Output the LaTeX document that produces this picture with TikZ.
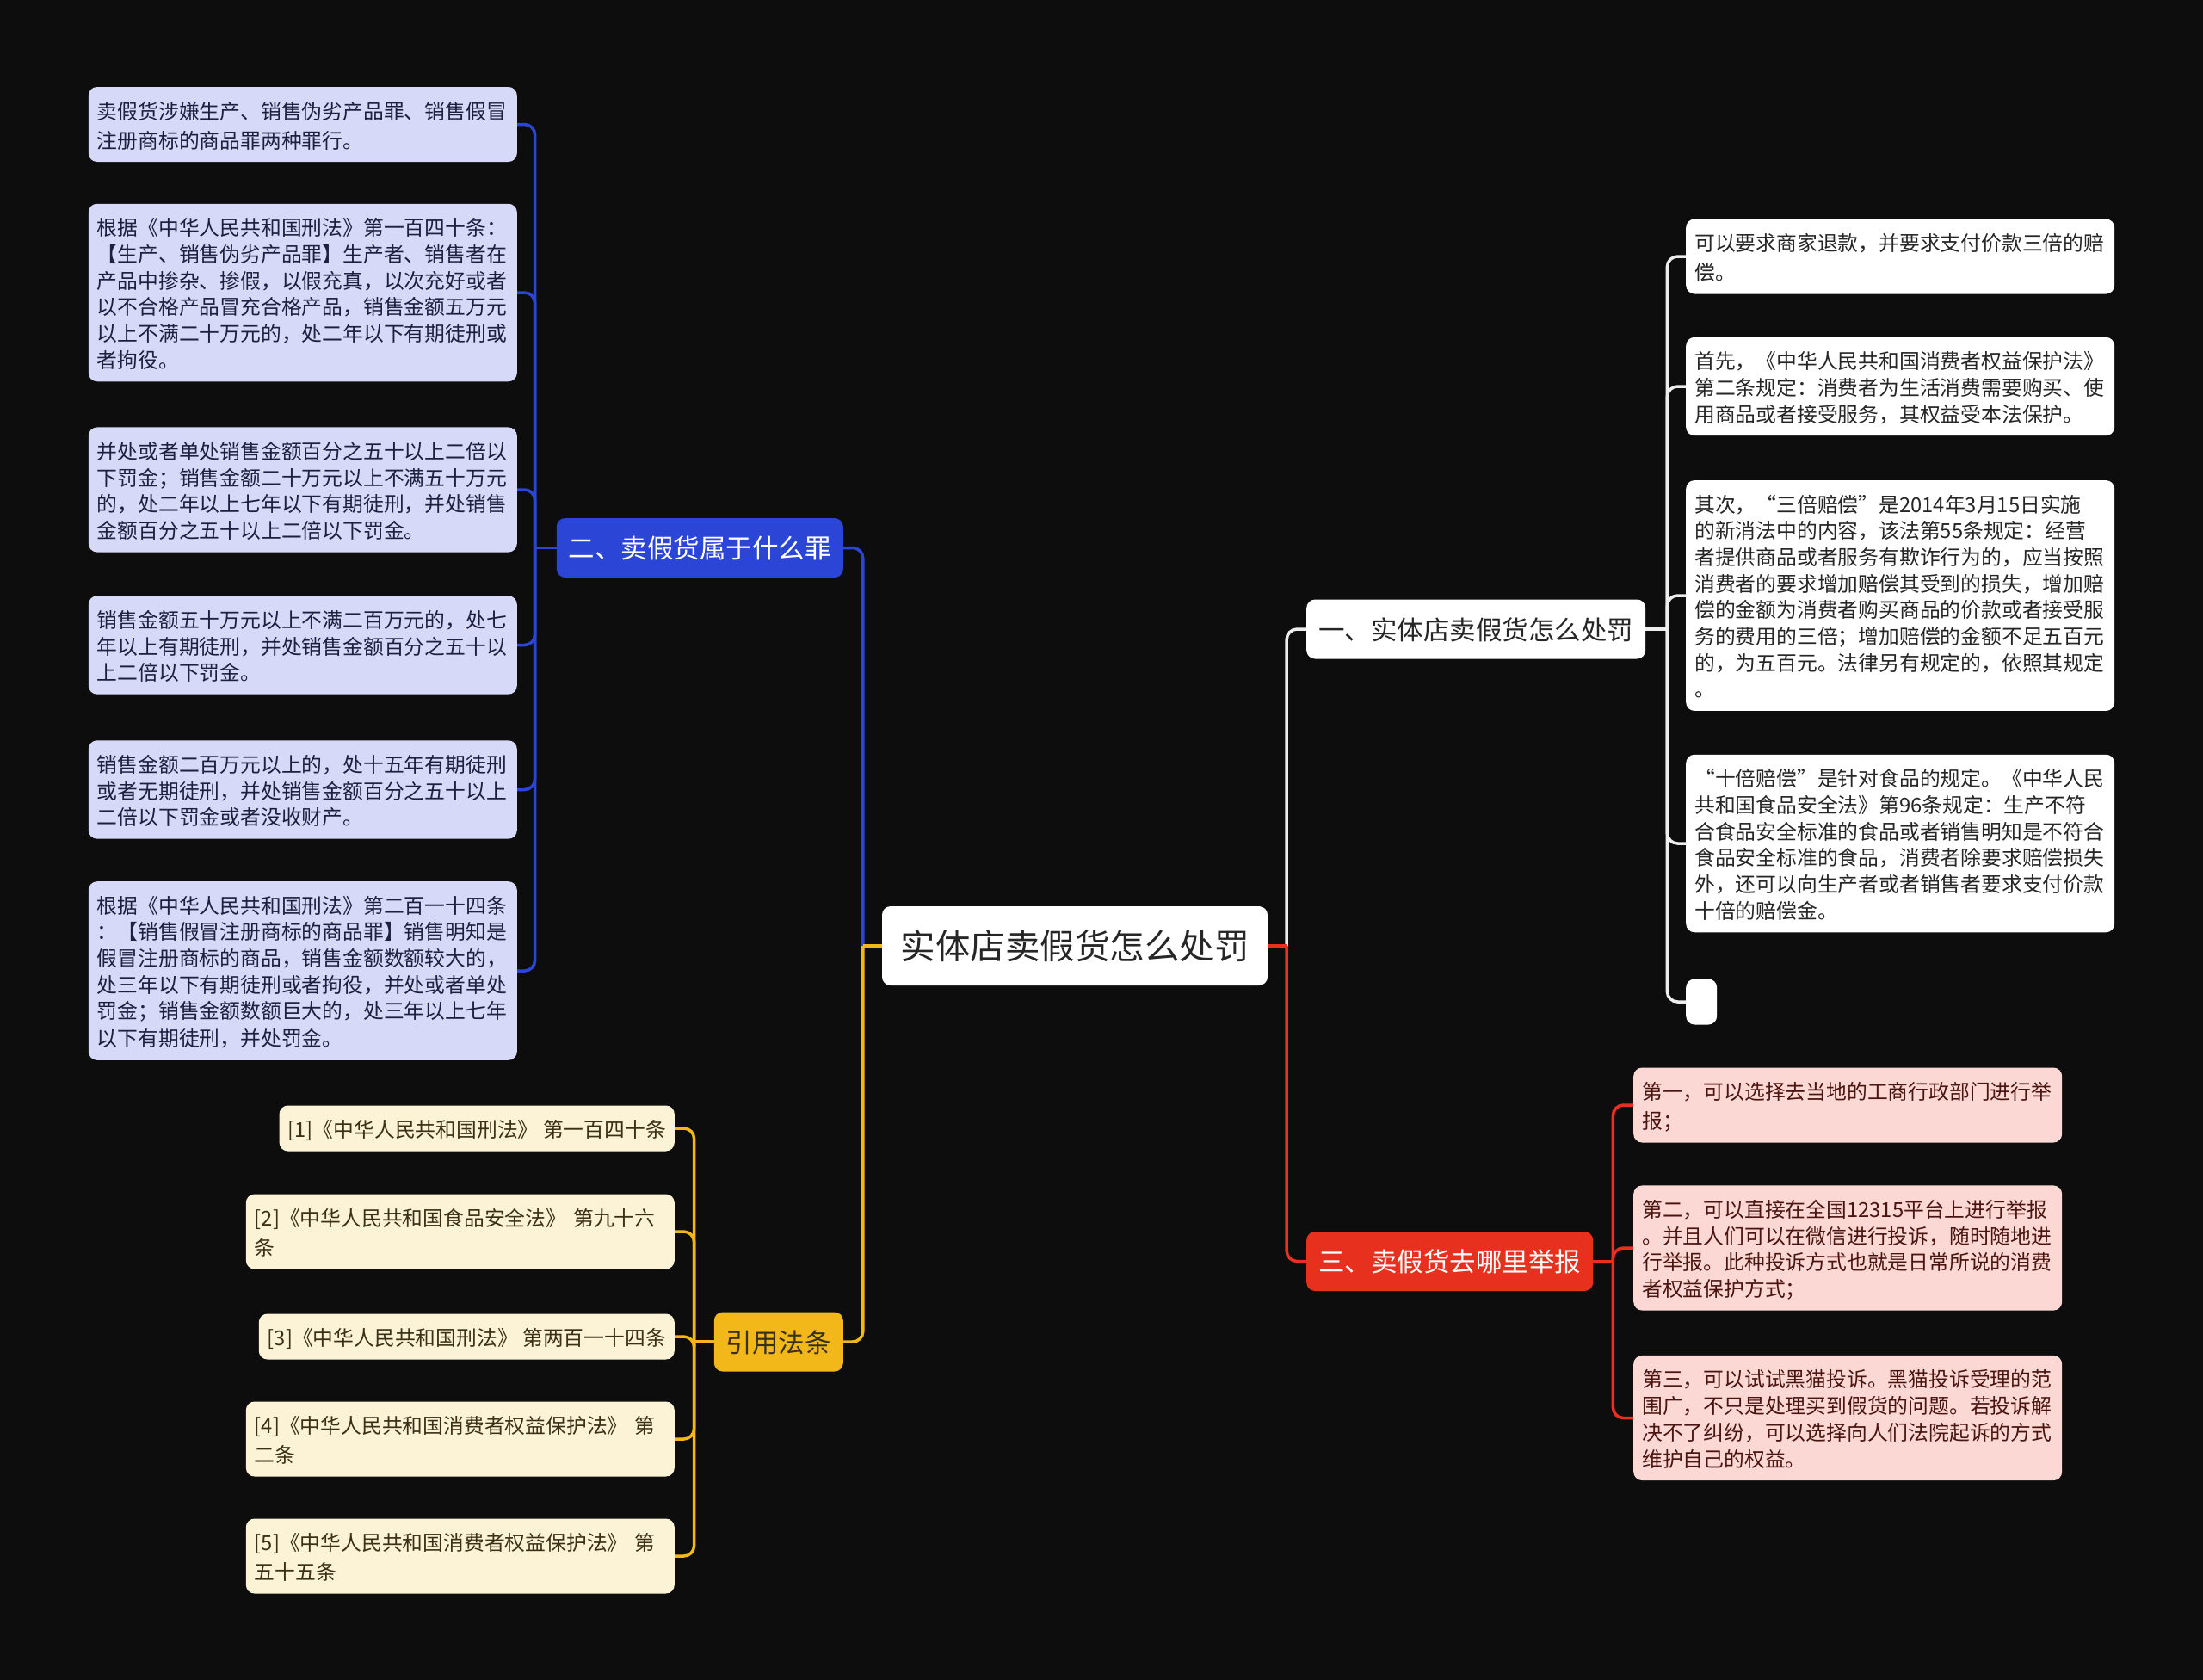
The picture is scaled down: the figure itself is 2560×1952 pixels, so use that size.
\documentclass[tikz,border=0pt]{standalone}
\usepackage{fontspec}
\setmainfont{Noto Sans CJK SC}

\definecolor{bg}{HTML}{0D0D0D}
\definecolor{blueB}{HTML}{2B45D6}
\definecolor{blueL}{HTML}{D6D9F7}
\definecolor{blueT}{HTML}{1E2040}
\definecolor{redB}{HTML}{E8301E}
\definecolor{redL}{HTML}{FBD8D4}
\definecolor{redT}{HTML}{4A1410}
\definecolor{yelB}{HTML}{F2B81A}
\definecolor{yelL}{HTML}{FCF3D6}
\definecolor{yelT}{HTML}{3A3018}
\definecolor{greyT}{HTML}{262626}
\definecolor{whiteC}{HTML}{EDEDED}

\newcommand{\ls}{\rule[-6pt]{0pt}{33pt}}

\begin{document}
\begin{tikzpicture}[x=1pt,y=-1pt,
    leaf/.style={rounded corners=10pt, inner xsep=10pt, inner ysep=10pt, align=left,
      font=\fontsize{23.8}{30.7}\selectfont, execute at begin node=\ls, execute at end node=\ls},
    wide/.style={text width=478pt},
    bleaf/.style={leaf, wide, fill=blueL, text=blueT, anchor=east},
    wleaf/.style={leaf, fill=white, text=greyT, anchor=west},
    rleaf/.style={leaf, wide, fill=redL, text=redT, anchor=west},
    yleaf/.style={leaf, fill=yelL, text=yelT, anchor=east},
    branch/.style={rounded corners=10pt, inner xsep=14pt, inner ysep=19.5pt,
      text height=27pt, text depth=3pt, font=\fontsize{30.5}{36}\selectfont},
    link/.style={line width=3.5pt},
    jn/.style={link, rounded corners=12pt}]
  \fill[bg] (0,0) rectangle (2560,1952);

  % centre and main branches
  \node[branch, fill=white, text=greyT, font=\fontsize{40.5}{48}\selectfont,
    text height=35pt, text depth=5pt, inner ysep=26pt, inner xsep=21.5pt] (root) at (1249,1099) {实体店卖假货怎么处罚};
  \node[branch, fill=blueB, text=white, anchor=east] (b) at (980,636.5) {二、卖假货属于什么罪};
  \node[branch, fill=yelB, text=yelT, anchor=east] (y) at (980,1559) {引用法条};
  \node[branch, fill=white, text=greyT, anchor=west] (w) at (1518,731) {一、实体店卖假货怎么处罚};
  \node[branch, fill=redB, text=white, anchor=west] (r) at (1518,1465.5) {三、卖假货去哪里举报};

  % left: blue leaves
  \node[bleaf] (b_1) at (601,144.5) {卖假货涉嫌生产、销售伪劣产品罪、销售假冒\\注册商标的商品罪两种罪行。};
  \node[bleaf] (b_2) at (601,340) {根据《中华人民共和国刑法》第一百四十条：\\【生产、销售伪劣产品罪】生产者、销售者在\\产品中掺杂、掺假，以假充真，以次充好或者\\以不合格产品冒充合格产品，销售金额五万元\\以上不满二十万元的，处二年以下有期徒刑或\\者拘役。};
  \node[bleaf] (b_3) at (601,569) {并处或者单处销售金额百分之五十以上二倍以\\下罚金；销售金额二十万元以上不满五十万元\\的，处二年以上七年以下有期徒刑，并处销售\\金额百分之五十以上二倍以下罚金。};
  \node[bleaf] (b_4) at (601,749.5) {销售金额五十万元以上不满二百万元的，处七\\年以上有期徒刑，并处销售金额百分之五十以\\上二倍以下罚金。};
  \node[bleaf] (b_5) at (601,917.5) {销售金额二百万元以上的，处十五年有期徒刑\\或者无期徒刑，并处销售金额百分之五十以上\\二倍以下罚金或者没收财产。};
  \node[bleaf] (b_6) at (601,1128) {根据《中华人民共和国刑法》第二百一十四条\\：【销售假冒注册商标的商品罪】销售明知是\\假冒注册商标的商品，销售金额数额较大的，\\处三年以下有期徒刑或者拘役，并处或者单处\\罚金；销售金额数额巨大的，处三年以上七年\\以下有期徒刑，并处罚金。};

  % left: yellow leaves
  \node[yleaf] (y_1) at (784,1311) {[1]《中华人民共和国刑法》 第一百四十条};
  \node[yleaf, wide] (y_2) at (784,1431) {[2]《中华人民共和国食品安全法》 第九十六\\条};
  \node[yleaf] (y_3) at (784,1553) {[3]《中华人民共和国刑法》 第两百一十四条};
  \node[yleaf, wide] (y_4) at (784,1672) {[4]《中华人民共和国消费者权益保护法》 第\\二条};
  \node[yleaf, wide] (y_5) at (784,1808) {[5]《中华人民共和国消费者权益保护法》 第\\五十五条};

  % right: white leaves
  \node[wleaf, wide] (w_1) at (1959,298) {可以要求商家退款，并要求支付价款三倍的赔\\偿。};
  \node[wleaf, wide] (w_2) at (1959,449) {首先，《中华人民共和国消费者权益保护法》\\第二条规定：消费者为生活消费需要购买、使\\用商品或者接受服务，其权益受本法保护。};
  \node[wleaf, wide] (w_3) at (1959,692) {其次，“三倍赔偿”是2014年3月15日实施\\的新消法中的内容，该法第55条规定：经营\\者提供商品或者服务有欺诈行为的，应当按照\\消费者的要求增加赔偿其受到的损失，增加赔\\偿的金额为消费者购买商品的价款或者接受服\\务的费用的三倍；增加赔偿的金额不足五百元\\的，为五百元。法律另有规定的，依照其规定\\。};
  \node[wleaf, wide] (w_4) at (1959,980) {“十倍赔偿”是针对食品的规定。《中华人民\\共和国食品安全法》第96条规定：生产不符\\合食品安全标准的食品或者销售明知是不符合\\食品安全标准的食品，消费者除要求赔偿损失\\外，还可以向生产者或者销售者要求支付价款\\十倍的赔偿金。};
  \node[wleaf, minimum width=36pt] (w_5) at (1959,1164) {};

  % right: red leaves
  \node[rleaf] (r_1) at (1898,1284) {第一，可以选择去当地的工商行政部门进行举\\报；};
  \node[rleaf] (r_2) at (1898,1450) {第二，可以直接在全国12315平台上进行举报\\。并且人们可以在微信进行投诉，随时随地进\\行举报。此种投诉方式也就是日常所说的消费\\者权益保护方式；};
  \node[rleaf] (r_3) at (1898,1647.5) {第三，可以试试黑猫投诉。黑猫投诉受理的范\\围广，不只是处理买到假货的问题。若投诉解\\决不了纠纷，可以选择向人们法院起诉的方式\\维护自己的权益。};

  % joints
  \path (root.west) ++(-22,0) coordinate (o_l);
  \path (root.east) ++(22,0) coordinate (o_r);
  \path (b.west) ++(-25,0) coordinate (b_j);
  \path (y.west) ++(-23,0) coordinate (y_j);
  \path (w.east) ++(25,0) coordinate (w_j);
  \path (r.east) ++(23,0) coordinate (r_j);

  % connectors
  \draw[jn, blueB] (o_l) |- (b.east);
  \draw[jn, yelB] (o_l) |- (y.east);
  \draw[link, yelB] (root.west) -- (o_l);
  \draw[jn, whiteC] (o_r) |- (w.west);
  \draw[jn, redB] (o_r) |- (r.west);
  \draw[link, redB] (root.east) -- (o_r);

  \draw[link, blueB] (b.west) -- (b_j);
  \foreach \n in {b_1,b_2,b_3,b_4,b_5,b_6}
    \draw[jn, blueB] (b_j) |- (\n.east);
  \draw[link, yelB] (y.west) -- (y_j);
  \foreach \n in {y_1,y_2,y_3,y_4,y_5}
    \draw[jn, yelB] (y_j) |- (\n.east);
  \draw[link, whiteC] (w.east) -- (w_j);
  \foreach \n in {w_1,w_2,w_3,w_4,w_5}
    \draw[jn, whiteC] (w_j) |- (\n.west);
  \draw[link, redB] (r.east) -- (r_j);
  \foreach \n in {r_1,r_2,r_3}
    \draw[jn, redB] (r_j) |- (\n.west);
\end{tikzpicture}
\end{document}
